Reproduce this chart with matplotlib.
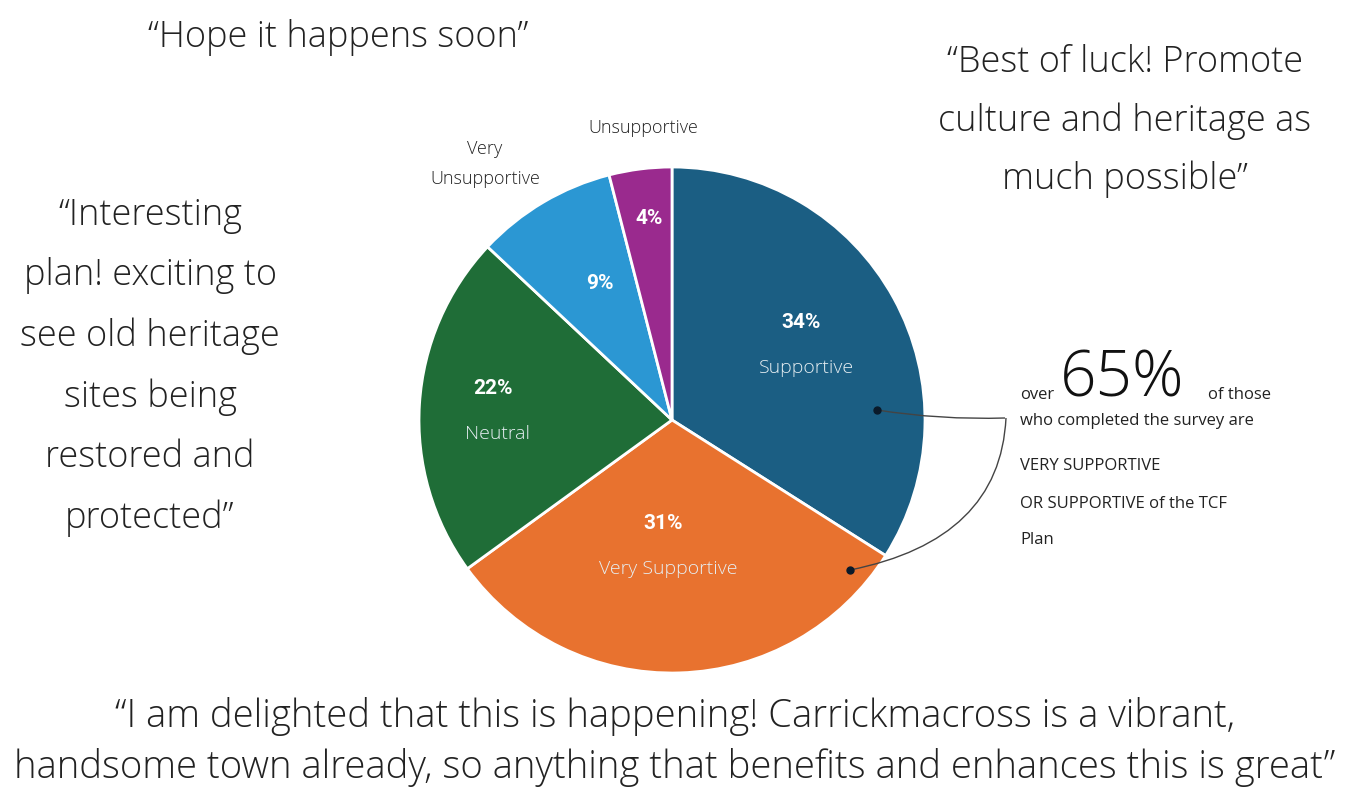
import matplotlib
matplotlib.use("Agg")
import matplotlib.pyplot as plt
from matplotlib.path import Path
from matplotlib.patches import PathPatch
import numpy as np

# ---- data ----
categories = ["Supportive", "Very Supportive", "Neutral", "Very\nUnsupportive", "Unsupportive"]
values = [34, 31, 22, 9, 4]
colors = ["#1B5E83", "#E8722F", "#1F6D37", "#2B97D3", "#9A2A8E"]
inside_names = ["Supportive", "Very Supportive", "Neutral", "", ""]

quote_top = "\u201cHope it happens soon\u201d"
quote_right = "\u201cBest of luck! Promote\nculture and heritage as\nmuch possible\u201d"
quote_left = "\u201cInteresting\nplan! exciting to\nsee old heritage\nsites being\nrestored and\nprotected\u201d"
quote_bottom = ("\u201cI am delighted that this is happening! Carrickmacross is a vibrant,\n"
                "handsome town already, so anything that benefits and enhances this is great\u201d")
note_lines = ["who completed the survey are", "VERY SUPPORTIVE", "OR SUPPORTIVE of the TCF", "Plan"]

W, H = 1345, 806
fig = plt.figure(figsize=(W / 100, H / 100), dpi=100)
fig.patch.set_facecolor("white")

bg = fig.add_axes([0, 0, 1, 1])
bg.set_xlim(0, W)
bg.set_ylim(H, 0)
bg.axis("off")

FONT = "Open Sans"
TXT = "#222222"

# ---- pie ----
cx, cy, r = 672, 420, 253
pax = fig.add_axes([(cx - r) / W, (H - cy - r) / H, 2 * r / W, 2 * r / H])
wedges, _ = pax.pie(values, colors=colors, startangle=90, counterclock=False,
                    wedgeprops=dict(edgecolor="white", linewidth=2), radius=1.0)
pax.set_xlim(-1, 1)
pax.set_ylim(-1, 1)
pax.set_aspect("equal")
pax.axis("off")

# label positions (angle deg, radius fraction) for percent labels, and name offset
pct_pos = [(37, 0.64), (-95, 0.41), (170, 0.72), (118, 0.61), (96.5, 0.80)]
for v, (a, rr), name in zip(values, pct_pos, inside_names):
    x, y = rr * np.cos(np.radians(a)), rr * np.sin(np.radians(a))
    pax.text(x, y, f"{v}%", ha="center", va="center", color="white",
             fontsize=15, fontweight="bold", family="Roboto")
    if name:
        pax.text(x + 0.02, y - 0.18, name, ha="center", va="center",
                 color="#e6eef2", fontsize=14, family=FONT, fontweight="light")

# overlay for connector + outside text
ov = fig.add_axes([0, 0, 1, 1])
ov.set_xlim(0, W)
ov.set_ylim(H, 0)
ov.axis("off")
ov.patch.set_alpha(0)

# outside category labels
ov.text(485, 164, categories[3], ha="center", va="center", fontsize=13,
        family=FONT, fontweight="light", color=TXT, linespacing=1.9)
ov.text(643, 128, categories[4], ha="center", va="center", fontsize=13,
        family=FONT, fontweight="light", color=TXT)

# ---- quotes ----
QS = 26
ov.text(338, 38, quote_top, ha="center", va="center", fontsize=QS,
        family=FONT, fontweight="light", color=TXT)
ov.text(1125, 121, quote_right, ha="center", va="center", fontsize=QS,
        family=FONT, fontweight="light", color=TXT, linespacing=1.75)
ov.text(150, 367, quote_left, ha="center", va="center", fontsize=QS,
        family=FONT, fontweight="light", color=TXT, linespacing=1.82)
ov.text(675, 742, quote_bottom, ha="center", va="center", fontsize=27.5,
        family=FONT, fontweight="light", color=TXT, linespacing=1.4)

# ---- annotation note ----
NS = 12
ov.text(1020, 395, "over", ha="left", va="center", fontsize=NS, family=FONT, color=TXT)
ov.text(1060, 380, "65%", ha="left", va="center", fontsize=46, family=FONT,
        fontweight="light", color="#111111")
ov.text(1208, 395, "of those", ha="left", va="center", fontsize=NS, family=FONT, color=TXT)
ys = [421, 466, 504, 540]
for yy, line in zip(ys, note_lines):
    ov.text(1020, yy, line, ha="left", va="center", fontsize=NS,
            family=FONT, color=TXT)

# connector
d1 = (877, 410)
d2 = (850, 570)
p1 = Path([d1, (940, 420), (1005, 418)], [Path.MOVETO, Path.CURVE3, Path.CURVE3])
p2 = Path([d2, (1000, 540), (1006, 418)], [Path.MOVETO, Path.CURVE3, Path.CURVE3])
for p in (p1, p2):
    ov.add_patch(PathPatch(p, facecolor="none", edgecolor="#444444", lw=1.0))
ov.plot([d1[0], d2[0]], [d1[1], d2[1]], linestyle="none", marker="o",
        color="#0a1a2a", markersize=5)

fig.savefig("out.png", dpi=100, facecolor="white")
